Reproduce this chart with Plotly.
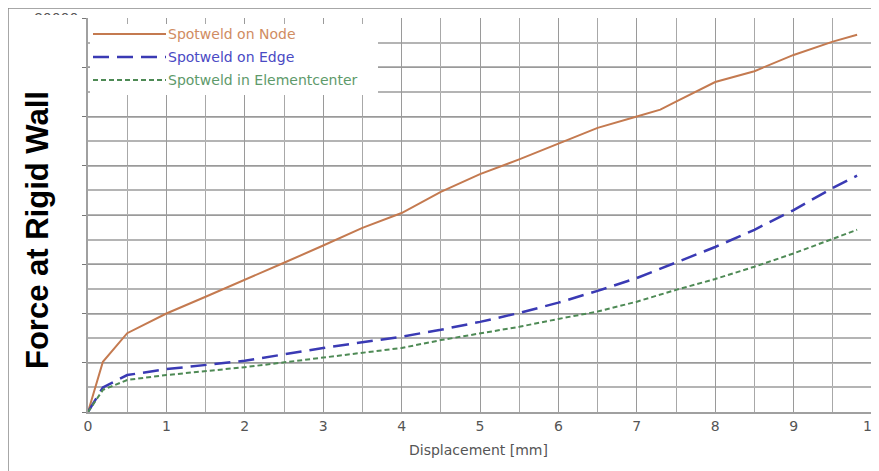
import plotly.graph_objects as go

# ---- data (force in N, displacement in mm) ----
node_x = [0, 0.19, 0.5, 1.0, 1.5, 2.0, 2.5, 3.0, 3.5, 4.0, 4.5, 5.0, 5.5, 6.0, 6.5, 7.0, 7.3, 7.5, 8.0, 8.5, 9.0, 9.5, 9.81]
node_y = [0, 10200, 16000, 20000, 23400, 26800, 30300, 33800, 37400, 40400, 44700, 48300, 51300, 54500, 57700, 60000, 61400, 63000, 67000, 69200, 72500, 75200, 76600]

edge_x = [0, 0.19, 0.5, 1.0, 2.0, 3.0, 4.0, 4.5, 5.0, 5.5, 6.0, 6.5, 7.0, 7.5, 8.0, 8.5, 9.0, 9.5, 9.81]
edge_y = [0, 5000, 7500, 8700, 10400, 13000, 15300, 16700, 18300, 20100, 22200, 24600, 27200, 30300, 33500, 37000, 41000, 45500, 48000]

center_x = [0, 0.19, 0.5, 1.0, 2.0, 3.0, 4.0, 4.5, 5.0, 5.5, 6.0, 6.5, 7.0, 7.5, 8.0, 8.5, 9.0, 9.5, 9.81]
center_y = [0, 4500, 6500, 7500, 9100, 11000, 13000, 14600, 15900, 17300, 18900, 20400, 22400, 24800, 27000, 29500, 32200, 35200, 37000]

names = ["Spotweld on Node", "Spotweld on Edge", "Spotweld in Elementcenter"]
line_colors = ["#C47A50", "#3A3AB4", "#4E8A55"]
text_colors = ["#D08C62", "#4A4AC4", "#5E9A6A"]
dashes = ["solid", "16px,8px", "5px,3px"]
widths = [2, 2.5, 2]

x_ticks = [0, 1, 2, 3, 4, 5, 6, 7, 8, 9, 10]
y_ticks = [0, 10000, 20000, 30000, 40000, 50000, 60000, 70000, 80000]

FONT = "DejaVu Sans, sans-serif"
BOLD = "Arial, Liberation Sans, sans-serif"

fig = go.Figure()
series = [(node_x, node_y), (edge_x, edge_y), (center_x, center_y)]
for (xs, ys), n, c, d, w in zip(series, names, line_colors, dashes, widths):
    fig.add_trace(go.Scatter(x=xs, y=ys, mode="lines", name=n,
                             line=dict(color=c, dash=d, width=w), showlegend=False))

# page offset of the figure (body margin)
OFF = 8
W, H = 879, 471
# target plot area in page pixels
PL, PR, PT, PB = 88, 872, 18, 412
ml = PL - OFF
mt = PT - OFF
mr = W - (PR - OFF)
mb = H - (PB - OFF)
pw, ph = PR - PL, PB - PT

def px_x(p):
    return (p - PL) / pw

def px_y(p):
    return (PB - p) / ph

shapes = []
annotations = []

# legend box (white, covers grid)
shapes.append(dict(type="rect", xref="paper", yref="paper",
                   x0=px_x(90), x1=px_x(378), y0=px_y(95), y1=px_y(24),
                   fillcolor="white", line=dict(width=0), layer="above"))
row_y = [34, 57, 80]
for i in range(3):
    shapes.append(dict(type="line", xref="paper", yref="paper",
                       x0=px_x(93), x1=px_x(166), y0=px_y(row_y[i]), y1=px_y(row_y[i]),
                       line=dict(color=line_colors[i], width=widths[i], dash=dashes[i]),
                       layer="above"))
    annotations.append(dict(xref="paper", yref="paper", x=px_x(166), y=px_y(row_y[i]),
                            text=names[i], showarrow=False, xanchor="left", yanchor="middle",
                            font=dict(family=FONT, size=14, color=text_colors[i])))

# white box hiding the y tick labels (only the top one peeks out)
shapes.append(dict(type="rect", xref="paper", yref="paper",
                   x0=px_x(9), x1=px_x(82), y0=px_y(480), y1=px_y(15),
                   fillcolor="white", line=dict(width=0), layer="above"))
# outer frame lines (top and left)
shapes.append(dict(type="line", xref="paper", yref="paper",
                   x0=px_x(8), x1=px_x(890), y0=px_y(8), y1=px_y(8),
                   line=dict(color="#8a8a8a", width=1.5), layer="above"))
shapes.append(dict(type="line", xref="paper", yref="paper",
                   x0=px_x(8), x1=px_x(8), y0=px_y(8), y1=px_y(480),
                   line=dict(color="#8a8a8a", width=1.5), layer="above"))

annotations.append(dict(xref="paper", yref="paper", x=px_x(37), y=px_y(230),
                        text="<b>Force at Rigid Wall</b>", textangle=-90, showarrow=False,
                        xanchor="center", yanchor="middle",
                        font=dict(family=BOLD, size=31, color="black")))
annotations.append(dict(xref="paper", yref="paper", x=px_x(478), y=px_y(450),
                        text="Displacement [mm]", showarrow=False,
                        xanchor="center", yanchor="middle",
                        font=dict(family=FONT, size=14, color="#555555")))

fig.update_layout(
    width=W, height=H,
    margin=dict(l=ml, r=mr, t=mt, b=mb, autoexpand=False),
    paper_bgcolor="white", plot_bgcolor="white",
    shapes=shapes, annotations=annotations,
    showlegend=False,
    xaxis=dict(range=[0, 10], tickvals=x_ticks, ticktext=[str(v) for v in x_ticks],
               automargin=False,
               showgrid=True, gridcolor="#9a9a9a", gridwidth=1,
               minor=dict(dtick=0.5, showgrid=True, gridcolor="#a8a8a8", gridwidth=1),
               showline=True, linecolor="#a0a0a0", linewidth=2,
               ticks="", zeroline=False,
               tickfont=dict(family=FONT, size=14, color="#555555")),
    yaxis=dict(range=[0, 80000], tickvals=y_ticks, ticktext=[str(v) for v in y_ticks],
               automargin=False,
               showgrid=True, gridcolor="#9a9a9a", gridwidth=1,
               minor=dict(dtick=5000, showgrid=True, gridcolor="#b4b4b4", gridwidth=2),
               showline=True, linecolor="#a0a0a0", linewidth=1.5,
               ticks="outside", ticklen=5, tickcolor="#777777", zeroline=False,
               tickfont=dict(family=FONT, size=14, color="#555555")),
)

fig.write_html("out.html")
